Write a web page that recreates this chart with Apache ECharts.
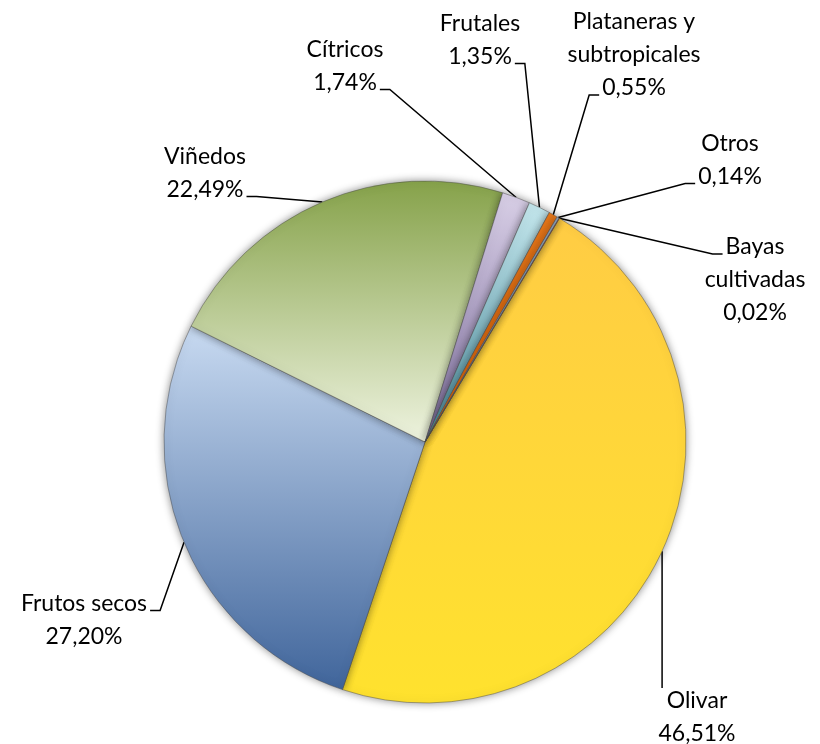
<!DOCTYPE html>
<html>
<head>
<meta charset="utf-8">
<script src="https://cdn.jsdelivr.net/npm/echarts@6/dist/echarts.min.js"></script>
<style>
  html, body { margin: 0; padding: 0; background: #fff; }
  #chart { width: 820px; height: 744px; }
</style>
</head>
<body>
<div id="chart"></div>
<script>
// superficie por tipo de cultivo leñoso (%)
var categories = [
  "Olivar",
  "Frutos secos",
  "Viñedos",
  "Cítricos",
  "Frutales",
  "Plataneras y\nsubtropicales",
  "Otros",
  "Bayas\ncultivadas"
];
var shares = [46.51, 27.20, 22.49, 1.74, 1.35, 0.55, 0.14, 0.02];

// slice fills, top -> bottom of each slice
var sliceColors = [
  ["#ffcc44", "#ffe22e"],
  ["#c8daf1", "#40659b"],
  ["#86a24a", "#eef3df"],
  ["#d8cfe6", "#7d6d9c"],
  ["#c4e6ec", "#4a8c9d"],
  ["#e8781a", "#d8620a"],
  ["#8ea2b8", "#6c7f96"],
  ["#c0504d", "#a03f3c"]
];

// label placement: text block centre, side the leader joins, which text line
var labelPos = [
  [697, 717, "top", 0],
  [84, 620, "right", 0],
  [205, 173, "right", 1],
  [345, 66, "right", 1],
  [480, 40, "right", 1],
  [634, 55, "left", 2],
  [730, 160, "left", 1],
  [755, 280, "left", 0]
];

var FONT_SIZE = 23;
var LINE_H = 33;
var FONT_FAMILY = "Lato";

var measureCtx = document.createElement("canvas").getContext("2d");
measureCtx.font = FONT_SIZE + "px " + FONT_FAMILY;

var chart = echarts.init(document.getElementById("chart"));

var pieData = categories.map(function (name, i) {
  return {
    name: name,
    value: shares[i],
    itemStyle: {
      color: {
        type: "linear",
        x: 0, y: 0, x2: 0, y2: 1,
        colorStops: [
          { offset: 0, color: sliceColors[i][0] },
          { offset: 1, color: sliceColors[i][1] }
        ]
      }
    }
  };
});

function fmtLabel(name, value) {
  return name + "\n" + value.toFixed(2).replace(".", ",") + "%";
}

chart.setOption({
  animation: false,
  series: [
    {
      type: "pie",
      center: [425, 442],
      radius: 261,
      startAngle: 59,
      clockwise: true,
      avoidLabelOverlap: false,
      data: pieData,
      itemStyle: {
        borderColor: "rgba(70,70,70,0.45)",
        borderWidth: 1,
        shadowBlur: 8,
        shadowColor: "rgba(0,0,0,0.45)"
      },
      label: {
        show: true,
        position: "outside",
        color: "#000",
        fontFamily: FONT_FAMILY,
        fontSize: FONT_SIZE,
        lineHeight: LINE_H,
        align: "center",
        formatter: function (p) {
          return fmtLabel(p.name, p.value);
        }
      },
      labelLine: {
        show: true,
        length: 20,
        length2: 10,
        lineStyle: { color: "#000", width: 1.5 }
      },
      labelLayout: function (params) {
        var i = params.dataIndex;
        var pos = labelPos[i];
        var cx = pos[0], cy = pos[1], side = pos[2], li = pos[3];
        var lines = fmtLabel(categories[i], shares[i]).split("\n");
        var anchor = params.labelLinePoints[0];
        var points;
        if (side === "top") {
          var top = cy - lines.length * LINE_H / 2 + 4;
          points = [anchor, [anchor[0], top - 4], [anchor[0], top]];
        } else {
          var w = measureCtx.measureText(lines[li]).width;
          var ly = cy - (lines.length - 1) * LINE_H / 2 + li * LINE_H + 7;
          var dir = side === "right" ? 1 : -1;
          var edge = cx + dir * (w / 2 + 3);
          points = [anchor, [edge + dir * 10, ly], [edge, ly]];
        }
        return {
          x: cx,
          y: cy,
          align: "center",
          verticalAlign: "middle",
          labelLinePoints: points
        };
      },
      emphasis: { disabled: true }
    }
  ]
});
</script>
</body>
</html>
